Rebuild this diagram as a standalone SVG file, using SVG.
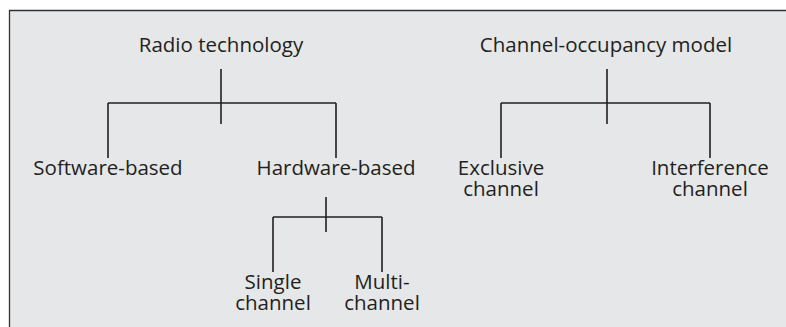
<svg xmlns="http://www.w3.org/2000/svg" width="786" height="327" viewBox="0 0 786 327">
<style>
.t{font-family:"Open Sans","Liberation Sans",sans-serif;font-size:20.5px;fill:#231f20;text-anchor:middle}
.c line{stroke:#231f20;stroke-width:1.6}
</style>
<rect x="0" y="0" width="786" height="327" fill="#ffffff"/>
<rect x="9.5" y="10.5" width="780" height="320" fill="#e6e7e9"/>
<path d="M786,10.5 H9.5 V327" fill="none" stroke="#333" stroke-width="1.3"/>
<g id="connectors" class="c">
<line x1="221" y1="69" x2="221" y2="124"/>
<line x1="108" y1="103" x2="336" y2="103"/>
<line x1="108" y1="103" x2="108" y2="158"/>
<line x1="336" y1="103" x2="336" y2="158"/>
<line x1="607" y1="69" x2="607" y2="124"/>
<line x1="501" y1="103" x2="710" y2="103"/>
<line x1="501" y1="103" x2="501" y2="158"/>
<line x1="710" y1="103" x2="710" y2="158"/>
<line x1="326" y1="197" x2="326" y2="232"/>
<line x1="273" y1="217" x2="382" y2="217"/>
<line x1="273" y1="217" x2="273" y2="272"/>
<line x1="382" y1="217" x2="382" y2="272"/>
</g>
<g id="radio"><text class="t" x="221" y="52">Radio technology</text></g>
<g id="software"><text class="t" x="108" y="175">Software-based</text></g>
<g id="hardware"><text class="t" x="336" y="175">Hardware-based</text></g>
<g id="single"><text class="t" x="273" y="289">Single</text><text class="t" x="273" y="310">channel</text></g>
<g id="multi"><text class="t" x="382" y="289">Multi-</text><text class="t" x="382" y="310">channel</text></g>
<g id="occupancy"><text class="t" x="606" y="52">Channel-occupancy model</text></g>
<g id="exclusive"><text class="t" x="501" y="175">Exclusive</text><text class="t" x="501" y="196">channel</text></g>
<g id="interference"><text class="t" x="710" y="175">Interference</text><text class="t" x="710" y="196">channel</text></g>
</svg>
